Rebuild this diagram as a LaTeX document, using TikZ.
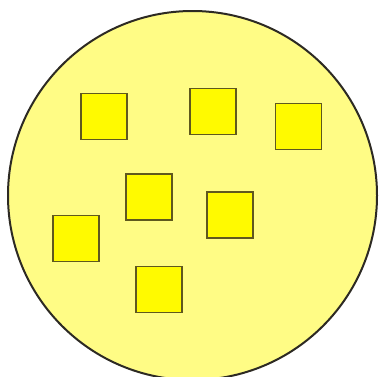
\documentclass[tikz,border=0pt]{standalone}
\definecolor{sqfill}{RGB}{255,250,0}
\definecolor{sqline}{RGB}{95,88,30}
\definecolor{cellfill}{RGB}{255,252,133}
\definecolor{cellline}{RGB}{45,42,35}
\begin{document}
\begin{tikzpicture}[x=1pt,y=-1pt,
  sq/.style={draw=sqline, line width=1.8pt, fill=sqfill, minimum width=46pt, minimum height=46pt, inner sep=0pt, outer sep=0pt},
  cell/.style={draw=cellline, line width=2pt, fill=cellfill, circle, minimum size=369pt, inner sep=0pt}]
\useasboundingbox (0,0) rectangle (379,376);
\begin{scope}
\clip (0,0) rectangle (379,376);
\node[cell] (c) at (192.5,195.5) {};
\end{scope}
\node[sq] (s1) at (103.7,116.4) {};
\node[sq] (s2) at (212.7,111.4) {};
\node[sq] (s3) at (298.4,126.5) {};
\node[sq] (s4) at (148.8,196.9) {};
\node[sq] (s5) at (229.7,215.2) {};
\node[sq] (s6) at (75.7,238.5) {};
\node[sq] (s7) at (158.7,289.5) {};
\end{tikzpicture}
\end{document}
